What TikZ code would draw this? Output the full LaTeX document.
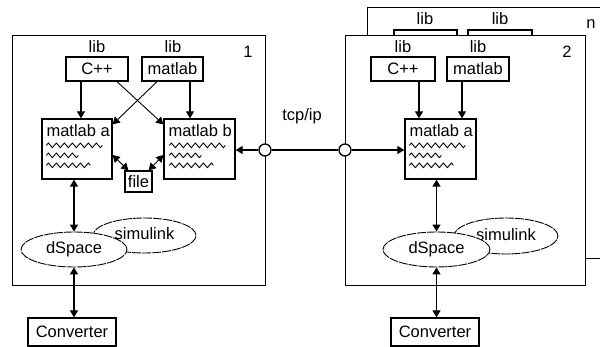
\documentclass[tikz,border=0pt]{standalone}
\usepackage{fontspec}
\setmainfont{Liberation Sans}
\usetikzlibrary{arrows.meta,decorations.pathmorphing,shapes.geometric,calc}
\begin{document}
\begin{tikzpicture}[x=1pt,y=-1pt,
  every node/.style={font=\fontsize{16.5}{18}\selectfont,inner sep=0pt},
  frame/.style={draw,line width=1.4pt,fill=white},
  rbox/.style={draw,line width=1.3pt,fill=white,minimum height=24pt},
  mbox/.style={draw,line width=1.3pt,fill=white,minimum width=71pt,minimum height=60pt},
  ell/.style={ellipse,draw,fill=white,line width=0.9pt,dash pattern=on 9pt off 1pt},
  tip/.tip={Triangle[length=7pt,width=8pt]},
  arr/.style={line width=1.3pt,-tip},
  darr/.style={line width=1.3pt,tip-tip},
  wave/.style={line width=0.9pt,decorate,decoration={zigzag,segment length=8pt,amplitude=2.3pt}},
  tcp/.style={circle,draw,fill=white,line width=1.3pt,minimum size=12pt}
]
\useasboundingbox (0,0) rectangle (600,347);
\clip (0,0) rectangle (600,347);

% ---------- box n (behind) ----------
\node[frame,anchor=north west,minimum width=260pt,minimum height=251pt] (boxn) at (367,7) {};
\node (libn1) at (425,19) {lib};
\node (libn2) at (500,19) {lib};
\node[rbox,minimum width=63pt] (cppn) at (425.5,42) {};
\node[rbox,minimum width=64pt] (mln) at (500,42) {};
\node (nlab) at (591,24) {n};

% ---------- box 1 ----------
\node[frame,anchor=north west,minimum width=253pt,minimum height=250pt] (box1) at (12,35) {};
\node (one) at (248,52) {1};
\node (lib11) at (97,47) {lib};
\node (lib12) at (173,47) {lib};
\node[rbox,minimum width=62pt] (cpp1) at (97,69) {C++};
\node[rbox,minimum width=61pt] (ml1) at (172.5,69) {matlab};
\node[mbox,minimum width=70pt] (ma1) at (77,149) {};
\node[anchor=west] (ma1t) at ([shift={(5,12)}]ma1.north west) {matlab a};
\node[mbox] (mb1) at (199.5,149) {};
\node[anchor=west] (mb1t) at ([shift={(5,12)}]mb1.north west) {matlab b};
\draw[wave] ([shift={(5,27)}]ma1.north west) -- ++(56,0);
\draw[wave] ([shift={(5,37)}]ma1.north west) -- ++(32,0);
\draw[wave] ([shift={(5,47)}]ma1.north west) -- ++(44,0);
\draw[wave] ([shift={(6,27)}]mb1.north west) -- ++(56,0);
\draw[wave] ([shift={(6,37)}]mb1.north west) -- ++(32,0);
\draw[wave] ([shift={(6,47)}]mb1.north west) -- ++(44,0);
\node[draw,line width=1.3pt,fill=white,minimum width=27pt,minimum height=21pt] (file) at (138.5,181.5) {file};

\draw[arr] ([shift={(-16,0)}]cpp1.south) -- ([shift={(4,0)}]ma1.north);
\draw[arr] ([shift={(17.5,0)}]ml1.south) -- ([shift={(-9.5,0)}]mb1.north);
\draw[arr,line width=0.9pt] ([shift={(20,0)}]cpp1.south) -- ([shift={(0,6)}]mb1.north west);
\draw[arr,line width=0.9pt] ([shift={(-15.5,0)}]ml1.south) -- ([shift={(0,6)}]ma1.north east);
\draw[darr,line width=0.9pt] ([shift={(0,6)}]ma1.east) -- ([shift={(4,0)}]file.north west);
\draw[darr,line width=0.9pt] ([shift={(0,6)}]mb1.west) -- ([shift={(-4,0)}]file.north east);

\node[ell,minimum width=103pt,minimum height=35pt] (sim1) at (144.5,235.5) {\raisebox{3pt}{simulink}};
\node[ell,minimum width=106pt,minimum height=35pt] (ds1) at (74,249.5) {dSpace};
\draw[darr] (ma1.south -| ds1.north) -- (ds1.north);
\node[draw,line width=1.3pt,fill=white,minimum width=88pt,minimum height=28pt] (conv1) at (72,332) {Converter};
\draw[darr] (ds1.south) -- (ds1.south |- conv1.north);

% ---------- box 2 ----------
\node[frame,anchor=north west,minimum width=240pt,minimum height=250pt] (box2) at (345,35) {};
\node (two) at (567,52) {2};
\node (lib21) at (403,47) {lib};
\node (lib22) at (478,47) {lib};
\node[rbox,minimum width=64pt] (cpp2) at (403,69) {C++};
\node[rbox,minimum width=62pt] (ml2) at (478,69) {matlab};
\node[mbox] (ma2) at (440.5,149) {};
\node[anchor=west] (ma2t) at ([shift={(5,12)}]ma2.north west) {matlab a};
\draw[wave] ([shift={(5,27)}]ma2.north west) -- ++(56,0);
\draw[wave] ([shift={(5,37)}]ma2.north west) -- ++(32,0);
\draw[wave] ([shift={(5,47)}]ma2.north west) -- ++(44,0);
\draw[arr] ([shift={(16,0)}]cpp2.south) -- ([shift={(-21.5,0)}]ma2.north);
\draw[arr] ([shift={(-16,0)}]ml2.south) -- ([shift={(21.5,0)}]ma2.north);

\node[ell,minimum width=104pt,minimum height=36pt] (sim2) at (506,236) {\raisebox{3pt}{simulink}};
\node[ell,minimum width=107pt,minimum height=35pt] (ds2) at (436.5,249.5) {dSpace};
\draw[darr] (ma2.south -| ds2.north) -- (ds2.north);
\node[draw,line width=1.3pt,fill=white,minimum width=88pt,minimum height=28pt] (conv2) at (435,332) {Converter};
\draw[darr] (ds2.south) -- (ds2.south |- conv2.north);

% ---------- tcp/ip ----------
\node[tcp] (c1) at (265,150) {};
\node[tcp] (c2) at (345,150) {};
\draw[line width=1.3pt] (c1) -- (c2);
\draw[arr] (c1) -- (c1 -| mb1.east);
\draw[arr] (c2) -- (c2 -| ma2.west);
\node (tcplab) at (302,116) {tcp/ip};
\end{tikzpicture}
\end{document}
